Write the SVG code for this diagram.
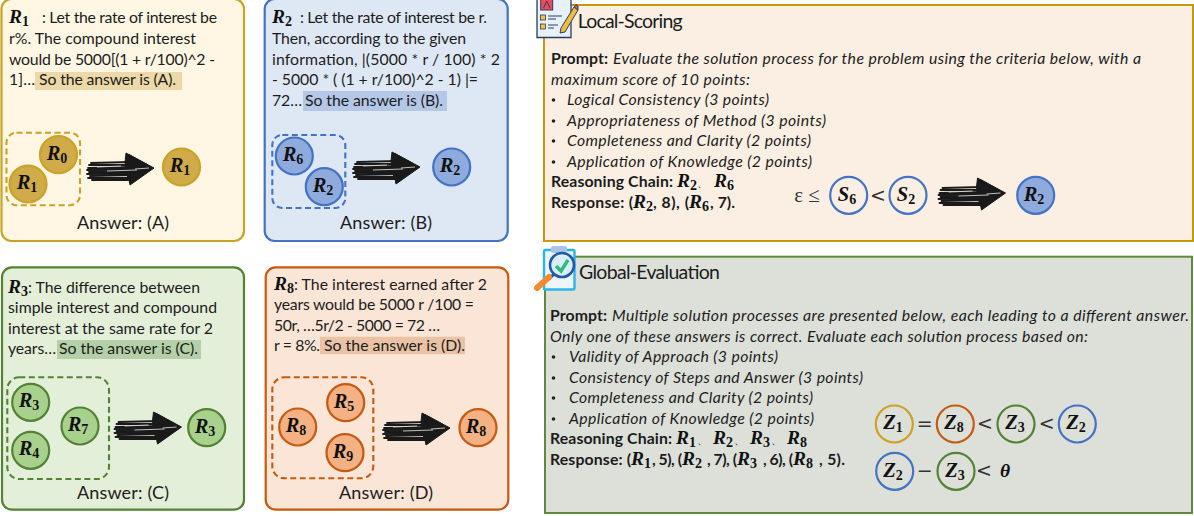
<svg xmlns="http://www.w3.org/2000/svg" width="1194" height="516" viewBox="0 0 1194 516">
<style>
text{font-family:Lato,"Open Sans",sans-serif;font-size:15.800px;fill:#1c1c1c}
.ans{font-size:18px}
.title{font-size:19.500px}
.i{font-style:italic}
.b{font-weight:700}
.m{font-family:"Liberation Serif",serif;font-weight:700;font-style:italic;font-size:19.500px;fill:#111}
.c{text-anchor:middle;font-size:20.500px}
.s{font-family:"Liberation Serif",serif;font-style:normal;font-weight:700;font-size:14px}
.op{font-family:"DejaVu Sans",sans-serif;font-size:19px;text-anchor:middle;fill:#333}
.ans.c{font-family:Lato,sans-serif;font-size:18px}
.p{stroke-width:2.200}
.d{fill:none;stroke-width:2.100;stroke-dasharray:6 3.500}
.n{stroke-width:2.200}
.gold{stroke:#c9a227}.blue{stroke:#4472c4}.green{stroke:#548235}.org{stroke:#c55a11}
.fg{fill:#cfab49}.fb{fill:#8faadc}.fgr{fill:#a9d18e}.fo{fill:#f4b183}
.o{fill:none}
.sc{fill:none;stroke:#1a1a1a;stroke-width:1.800;stroke-linecap:round}
</style>
<defs>
<g id="arrow">
<path d="M39-15L67 0L43 17L42 12L39 5L38-6Z" fill="#1a1a1a" stroke="#1a1a1a" stroke-width="1"/>
<path class="sc" d="M4-5L44-6M2-3L46-3M1 0L48-1M0 2L50 1M2 4L52 3M0 6L50 5M3 8L48 7M1 10L46 10M5 12L44 12"/>
<path class="sc" d="M42-13L60-3M44 15L60 3M44-10L44 14M49-9L49 11"/>
<path d="M20 3L50 2M48 1L62 0M10-1L34-2" fill="none" stroke="#e8e8e8" stroke-width=".8"/>
</g>
</defs>

<g id="panel-r1">
<rect class="p gold" x="1.500" y="-1" width="242.500" height="242" rx="10" fill="#fff6e3"/>
<rect x="35" y="72" width="147" height="18" fill="#ecd9a7"/>
<text class="m" x="9" y="23">R<tspan class="s" dy="3">1</tspan></text>
<text x="42" y="23" textLength="175">: Let the rate of interest be</text>
<text x="9" y="44" textLength="187">r%. The compound interest</text>
<text x="9" y="65" textLength="206">would be 5000[(1 + r/100)^2 -</text>
<text x="9" y="85" textLength="26">1]…</text>
<text x="39" y="85" textLength="137">So the answer is (A).</text>
<rect class="d gold" x="6.500" y="132.700" width="73.500" height="72.500" rx="10"/>
<text class="ans c" x="123" y="229" textLength="92">Answer: (A)</text>
</g>
<g id="node-r0"><circle class="n gold fg" cx="58.500" cy="154.700" r="18.500"/><text class="m c" x="57" y="160">R<tspan class="s" dy="3">0</tspan></text></g>
<g id="node-r1"><circle class="n gold fg" cx="28" cy="184" r="18.500"/><text class="m c" x="27" y="189">R<tspan class="s" dy="3">1</tspan></text></g>
<g id="node-r1-out"><circle class="n gold fg" cx="181.500" cy="167" r="18.500"/><text class="m c" x="180" y="172">R<tspan class="s" dy="3">1</tspan></text></g>

<g id="panel-r2">
<rect class="p blue" x="264.700" y="-1" width="243" height="242" rx="10" fill="#dee8f5"/>
<rect x="303" y="91" width="144" height="20" fill="#b4c7e7"/>
<text class="m" x="272" y="23">R<tspan class="s" dy="3">2</tspan></text>
<text x="300" y="23" textLength="187">: Let the rate of interest be r.</text>
<text x="272" y="44" textLength="194">Then, according to the given</text>
<text x="272" y="65" textLength="228">information, |(5000 * r / 100) * 2</text>
<text x="272" y="85" textLength="206">- 5000 * ( (1 + r/100)^2 - 1) |=</text>
<text x="272" y="106" textLength="30">72…</text>
<text x="305" y="106" textLength="138">So the answer is (B).</text>
<rect class="d blue" x="272.300" y="135" width="73" height="73" rx="10"/>
<text class="ans c" x="386" y="229" textLength="92">Answer: (B)</text>
</g>
<g id="node-r6"><circle class="n blue fb" cx="294.300" cy="156" r="18.500"/><text class="m c" x="293" y="161">R<tspan class="s" dy="3">6</tspan></text></g>
<g id="node-r2"><circle class="n blue fb" cx="324.300" cy="186.700" r="18.500"/><text class="m c" x="323" y="192">R<tspan class="s" dy="3">2</tspan></text></g>
<g id="node-r2-out"><circle class="n blue fb" cx="451.700" cy="167" r="18.500"/><text class="m c" x="450" y="172">R<tspan class="s" dy="3">2</tspan></text></g>

<g id="panel-r3">
<rect class="p green" x="2" y="267.300" width="242" height="242.400" rx="10" fill="#e3efd9"/>
<rect x="57" y="340" width="144" height="19" fill="#b5d0a8"/>
<text class="m" x="8" y="293">R<tspan class="s" dy="3">3</tspan></text>
<text x="28" y="293" textLength="172">: The difference between</text>
<text x="8" y="313" textLength="209">simple interest and compound</text>
<text x="8" y="334" textLength="205">interest at the same rate for 2</text>
<text x="8" y="354" textLength="48">years…</text>
<text x="59" y="354" textLength="139">So the answer is (C).</text>
<rect class="d green" x="7.300" y="377.300" width="101.700" height="101.700" rx="12"/>
<text class="ans c" x="123" y="499" textLength="92">Answer: (C)</text>
</g>
<g id="node-r3"><circle class="n green fgr" cx="30.700" cy="402.300" r="18.500"/><text class="m c" x="29" y="407">R<tspan class="s" dy="3">3</tspan></text></g>
<g id="node-r4"><circle class="n green fgr" cx="30.700" cy="450.300" r="18.500"/><text class="m c" x="29" y="455">R<tspan class="s" dy="3">4</tspan></text></g>
<g id="node-r7"><circle class="n green fgr" cx="80" cy="426" r="18.500"/><text class="m c" x="78" y="431">R<tspan class="s" dy="3">7</tspan></text></g>
<g id="node-r3-out"><circle class="n green fgr" cx="206.700" cy="427.700" r="18.500"/><text class="m c" x="205" y="433">R<tspan class="s" dy="3">3</tspan></text></g>

<g id="panel-r8">
<rect class="p org" x="265.700" y="267.300" width="242.600" height="242.400" rx="10" fill="#fbe5d6"/>
<rect x="320" y="336.700" width="145" height="17.500" fill="#eac2a5"/>
<text class="m" x="274" y="290">R<tspan class="s" dy="3">8</tspan></text>
<text x="294" y="290" textLength="193">: The interest earned after 2</text>
<text x="274" y="310" textLength="200">years would be 5000 r /100 =</text>
<text x="274" y="331" textLength="166">50r, …5r/2 - 5000 = 72 …</text>
<text x="274" y="351" textLength="46">r = 8%.</text>
<text x="324" y="351" textLength="141">So the answer is (D).</text>
<rect class="d org" x="272.300" y="377.300" width="101" height="101" rx="12"/>
<text class="ans c" x="386" y="499" textLength="94">Answer: (D)</text>
</g>
<g id="node-r8"><circle class="n org fo" cx="297.700" cy="427" r="18.500"/><text class="m c" x="296" y="432">R<tspan class="s" dy="3">8</tspan></text></g>
<g id="node-r5"><circle class="n org fo" cx="345.700" cy="402.700" r="18.500"/><text class="m c" x="344" y="408">R<tspan class="s" dy="3">5</tspan></text></g>
<g id="node-r9"><circle class="n org fo" cx="345" cy="452.700" r="18.500"/><text class="m c" x="343" y="458">R<tspan class="s" dy="3">9</tspan></text></g>
<g id="node-r8-out"><circle class="n org fo" cx="478" cy="427.700" r="18.500"/><text class="m c" x="476" y="433">R<tspan class="s" dy="3">8</tspan></text></g>

<g id="local-scoring">
<rect x="544" y="5" width="649" height="236" fill="#fbefe3" stroke="#c49a0c" stroke-width="2"/>
<text class="title" x="577.700" y="28" textLength="105">Local-Scoring</text>
<g id="icon-local">
<path d="M537-1H571V37.500H537Z" fill="#e8f0fb" stroke="#24405f" stroke-width="1.300"/>
<rect x="540.700" y="-1" width="12" height="11" fill="#ef4a5c" stroke="#24405f"/>
<path d="M543.500 8L546.700 1L550 8" fill="none" stroke="#24405f"/>
<rect x="540.500" y="15" width="5" height="5" fill="#f5c33b" stroke="#24405f" stroke-width=".8"/>
<rect x="540.500" y="24" width="5" height="5" fill="#f5c33b" stroke="#24405f" stroke-width=".8"/>
<path d="M548 16H562M548 19H556M548 25H558M548 28H554" stroke="#24405f" fill="none"/>
<path d="M574 7L578 10L565 32L560 33L561 28Z" fill="#f2bd3c" stroke="#24405f" stroke-width="1"/>
<path d="M574 7L576 4.500L578 6L578 10Z" fill="#ef4a5c" stroke="#24405f" stroke-width="1"/>
</g>
<text class="b" x="551" y="64" textLength="57">Prompt:</text>
<text class="i" x="613" y="64" textLength="528">Evaluate the solution process for the problem using the criteria below, with a</text>
<text class="i" x="551" y="85" textLength="199">maximum score of 10 points:</text>
<circle cx="553.500" cy="100" r="1.800" fill="#222"/><text class="i" x="567" y="105" textLength="202">Logical Consistency (3 points)</text>
<circle cx="553.500" cy="121" r="1.800" fill="#222"/><text class="i" x="567" y="126" textLength="259">Appropriateness of Method (3 points)</text>
<circle cx="553.500" cy="141" r="1.800" fill="#222"/><text class="i" x="567" y="146" textLength="244">Completeness and Clarity (2 points)</text>
<circle cx="553.500" cy="162" r="1.800" fill="#222"/><text class="i" x="567" y="167" textLength="245">Application of Knowledge (2 points)</text>
<text class="b" x="551" y="187" textLength="122">Reasoning Chain:</text>
<text class="m" x="677" y="187">R<tspan class="s" dy="3">2</tspan></text>
<text x="697" y="187" style="font-size:11px">、</text>
<text class="m" x="714" y="187">R<tspan class="s" dy="3">6</tspan></text>
<text class="b" x="551" y="208" textLength="82">Response: (</text>
<text class="m" x="633" y="208">R<tspan class="s" dy="3">2</tspan></text>
<text class="b" x="653" y="208" textLength="36">, 8), (</text>
<text class="m" x="689" y="208">R<tspan class="s" dy="3">6</tspan></text>
<text class="b" x="710" y="208" textLength="25">, 7).</text>
<text class="op" x="807" y="202" style="font-family:'Liberation Serif',serif;font-size:21px">ε ≤</text>
<text class="op" x="878" y="202">&lt;</text>
</g>
<g id="node-s6"><circle class="n blue o" cx="848.700" cy="195.300" r="18.500"/><text class="m c" x="847" y="201">S<tspan class="s" dy="3">6</tspan></text></g>
<g id="node-s2"><circle class="n blue o" cx="908" cy="195.300" r="18.500"/><text class="m c" x="906" y="201">S<tspan class="s" dy="3">2</tspan></text></g>
<g id="node-r2-local"><circle class="n blue fb" cx="1035.700" cy="195.300" r="18.500"/><text class="m c" x="1034" y="201">R<tspan class="s" dy="3">2</tspan></text></g>

<g id="global-evaluation">
<rect x="545" y="256.700" width="647" height="256.300" fill="#dce0d9" stroke="#5d8a3c" stroke-width="2"/>
<text class="title" x="579" y="279" textLength="141">Global-Evaluation</text>
<g id="icon-global">
<rect x="544" y="250" width="30.500" height="39.500" rx="1.500" fill="#eef6fb" stroke="#2bb5ea" stroke-width="2.400"/>
<rect x="551" y="246" width="16" height="7" rx="2" fill="#a9c4e4"/>
<circle cx="562" cy="265" r="12" fill="#d8eef2" stroke="#1e5aa8" stroke-width="2.600"/>
<path d="M556 266L561 271L568 260" fill="none" stroke="#2fb982" stroke-width="3.400"/>
<path d="M554 274L549 279" stroke="#1e5aa8" stroke-width="3"/>
<path d="M549 277L537 288" stroke="#f28a30" stroke-width="6" stroke-linecap="round"/>
</g>
<text class="b" x="550" y="321" textLength="57">Prompt:</text>
<text class="i" x="612" y="321" textLength="577">Multiple solution processes are presented below, each leading to a different answer.</text>
<text class="i" x="550" y="342" textLength="538">Only one of these answers is correct. Evaluate each solution process based on:</text>
<circle cx="553.500" cy="357" r="1.800" fill="#222"/><text class="i" x="569" y="362" textLength="209">Validity of Approach (3 points)</text>
<circle cx="553.500" cy="378" r="1.800" fill="#222"/><text class="i" x="569" y="383" textLength="294">Consistency of Steps and Answer (3 points)</text>
<circle cx="553.500" cy="398" r="1.800" fill="#222"/><text class="i" x="569" y="403" textLength="244">Completeness and Clarity (2 points)</text>
<circle cx="553.500" cy="419" r="1.800" fill="#222"/><text class="i" x="569" y="424" textLength="245">Application of Knowledge (2 points)</text>
<text class="b" x="550" y="444" textLength="122">Reasoning Chain:</text>
<text class="m" x="676" y="444">R<tspan class="s" dy="3">1</tspan></text>
<text x="697" y="444" style="font-size:11px">、</text>
<text class="m" x="713" y="444">R<tspan class="s" dy="3">2</tspan></text>
<text x="734" y="444" style="font-size:11px">、</text>
<text class="m" x="750" y="444">R<tspan class="s" dy="3">3</tspan></text>
<text x="771" y="444" style="font-size:11px">、</text>
<text class="m" x="787" y="444">R<tspan class="s" dy="3">8</tspan></text>
<text class="b" x="550" y="465" textLength="81">Response: (</text>
<text class="m" x="631" y="465">R<tspan class="s" dy="3">1</tspan></text>
<text class="b" x="652" y="465" textLength="30">, 5), (</text>
<text class="m" x="682" y="465">R<tspan class="s" dy="3">2</tspan></text>
<text class="b" x="707" y="465" textLength="30">, 7), (</text>
<text class="m" x="737" y="465">R<tspan class="s" dy="3">3</tspan></text>
<text class="b" x="763" y="465" textLength="30">, 6), (</text>
<text class="m" x="793" y="465">R<tspan class="s" dy="3">8</tspan></text>
<text class="b" x="819" y="465" textLength="26">, 5).</text>
<text class="op" x="924.700" y="430">=</text>
<text class="op" x="985" y="430">&lt;</text>
<text class="op" x="1046.700" y="430">&lt;</text>
<text class="op" x="924.700" y="477">−</text>
<text class="op" x="992" y="477" style="text-anchor:end">&lt;</text>
<text class="m" x="1000" y="477">θ</text>
</g>
<g id="node-z1"><circle class="n gold o" cx="894.300" cy="424" r="18.500"/><text class="m c" x="893" y="429">Z<tspan class="s" dy="3">1</tspan></text></g>
<g id="node-z8"><circle class="n org o" cx="955.300" cy="424" r="18.500"/><text class="m c" x="954" y="429">Z<tspan class="s" dy="3">8</tspan></text></g>
<g id="node-z3"><circle class="n green o" cx="1016" cy="424" r="18.500"/><text class="m c" x="1015" y="429">Z<tspan class="s" dy="3">3</tspan></text></g>
<g id="node-z2"><circle class="n blue o" cx="1077.300" cy="424" r="18.500"/><text class="m c" x="1076" y="429">Z<tspan class="s" dy="3">2</tspan></text></g>
<g id="node-z2b"><circle class="n blue o" cx="894.700" cy="471.300" r="18.500"/><text class="m c" x="893" y="477">Z<tspan class="s" dy="3">2</tspan></text></g>
<g id="node-z3b"><circle class="n green o" cx="956" cy="471.300" r="18.500"/><text class="m c" x="955" y="477">Z<tspan class="s" dy="3">3</tspan></text></g>

<g id="connectors">
<use href="#arrow" x="87" y="168"/>
<use href="#arrow" x="353" y="167"/>
<use href="#arrow" x="114.500" y="427"/>
<use href="#arrow" x="383" y="428"/>
<use href="#arrow" x="938.500" y="193"/>
</g>
</svg>
